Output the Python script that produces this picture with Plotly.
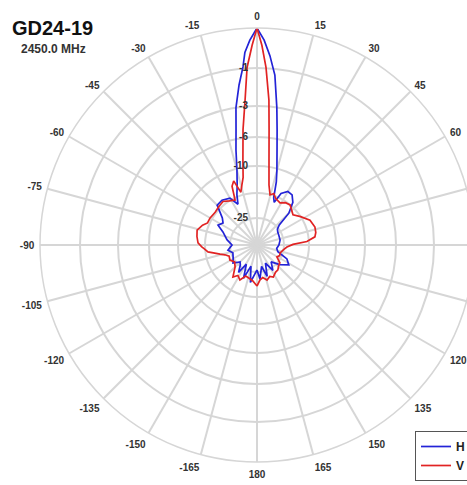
import numpy as np
import plotly.graph_objects as go

# Radial scale of the chart: dB level -> ring radius (chart units)
scale_db = [-40, -25, -15, -10, -6, -3, -1, 0]
scale_r = [0, 27, 52, 79, 108, 139, 177, 217]

ring_db = [-25, -15, -10, -6, -3, -1]
ring_labels = ['-25', '', '-10', '-6', '-3', '-1']

angle_ticks = list(range(0, 360, 15))
# labels at 75, 90 and 105 fall outside the visible picture in the reference
angle_labels = ['' if a in (75, 90, 105) else (str(a) if a <= 180 else str(a - 360))
                for a in angle_ticks]

# H polarisation (blue)
h_angle = [-180, -175, -170, -164, -158, -151, -146, -140, -135, -127, -118, -108,
           -100, -90, -80, -69, -63, -57, -52, -45, -38, -30, -25, -21.8, -18.4,
           -15, -12.5, -10.3, -8.7, -6.4, -4.5, -3.6, -2, 0, 2, 3.9, 6, 8.2, 9.9,
           11.9, 14.9, 17, 19.5, 22, 25, 30, 35, 40, 45, 48, 52, 58, 65, 78, 90,
           100, 108, 115, 122, 131, 140, 148, 155, 162, 168, 175, 180]
h_db = [-26.1, -23.8, -20.6, -27.8, -21.4, -27.8, -22.6, -25.6, -26.7, -23.8, -25.0,
        -25.9, -24.0, -26.1, -23.6, -21.2, -18.3, -19.6, -18.2, -14.2, -14.1, -14.6,
        -17.8, -14.6, -13.0, -10.3, -7.5, -5.1, -3.0, -1.84, -0.96, -0.6, -0.3, 0.0,
        -0.3, -0.68, -1.32, -3.0, -5.13, -7.5, -10.3, -12.4, -15.8, -17.4, -14.1,
        -13.2, -13.3, -14.3, -17.8, -23.8, -25.6, -26.4, -26.7, -26.9, -27.8, -28.9,
        -27.8, -22.6, -20.8, -23.8, -27.8, -23.8, -28.9, -22.6, -27.8, -22.2, -26.1]

# V polarisation (red)
v_angle = [-180, -173, -166, -160, -154, -148, -143, -135, -127, -119, -112, -107,
           -104, -98, -94, -92, -88, -82, -76, -70, -66, -60, -52, -45, -38, -32,
           -26, -23, -20, -17, -14, -11.6, -9.4, -6.9, -4.7, -3.2, -1.4, 0, 1.4, 2.9,
           4.7, 6, 8, 11.3, 14.6, 18, 22, 28.7, 34, 39.5, 45, 50, 57, 65, 72.8, 78,
           82, 86, 89, 94, 100, 109, 115, 121, 128, 134, 140, 146, 153, 158, 164,
           170, 175, 180]
v_db = [-19.4, -21.4, -22.2, -22.6, -20.2, -21.4, -19.8, -23.4, -24.6, -23.4, -23.8,
        -22.4, -20.6, -16.0, -14.8, -14.4, -13.7, -13.4, -13.2, -13.9, -14.6, -14.6,
        -14.8, -14.6, -14.4, -15.0, -15.8, -12.8, -12.0, -14.4, -13.1, -11.85, -9.0,
        -5.2, -2.66, -0.98, -0.43, 0.0, -0.43, -0.98, -2.66, -5.27, -9.0, -13.3,
        -15.1, -14.6, -15.8, -16.6, -15.4, -15.0, -16.2, -17.0, -15.0, -13.8, -13.4,
        -13.5, -13.8, -15.8, -21.4, -23.8, -25.0, -26.4, -26.1, -27.1, -24.2, -23.8,
        -22.8, -22.6, -21.4, -22.2, -21.2, -22.6, -21.8, -19.4]

to_r = lambda db: np.interp(db, scale_db, scale_r)

fig = go.Figure()
fig.add_trace(go.Scatterpolar(r=to_r(h_db), theta=h_angle, mode='lines', name='H',
                              line=dict(color='rgb(35,35,215)', width=1.7)))
fig.add_trace(go.Scatterpolar(r=to_r(v_db), theta=v_angle, mode='lines', name='V',
                              line=dict(color='rgb(225,35,35)', width=1.7)))

# canvas wider than the window: the right edge is cut off as in the reference
W, H = 520, 485
L, T, B = 40, 28, 23
R = W - 474
pw, ph = W - L - R, H - T - B
px = lambda x: (x - L) / pw
py = lambda y: 1 - (y - T) / ph

grid = '#d6d6d6'
tfont = dict(family='Arial', size=10, color='#333333', weight='bold')
fig.update_layout(
    width=W, height=H,
    margin=dict(l=L, r=R, t=T, b=B, autoexpand=False),
    paper_bgcolor='white',
    showlegend=True,
    legend=dict(x=px(415), y=py(431), xanchor='left', yanchor='top',
                bordercolor='#555555', borderwidth=1, bgcolor='white',
                font=dict(family='Arial', size=12, color='#222222', weight='bold'),
                tracegroupgap=2),
    polar=dict(
        bgcolor='white',
        domain=dict(x=[0, 1], y=[0, 1]),
        angularaxis=dict(rotation=90, direction='clockwise', tickmode='array',
                         tickvals=angle_ticks, ticktext=angle_labels,
                         showgrid=True, gridcolor=grid, gridwidth=1.5,
                         showline=True, linecolor=grid, linewidth=1.5,
                         ticks='outside', ticklen=3, tickcolor='rgba(0,0,0,0)',
                         tickfont=tfont),
        radialaxis=dict(range=[0, 217], tickmode='array',
                        tickvals=to_r(ring_db), ticktext=ring_labels,
                        angle=90, tickangle=90, side='counterclockwise',
                        showline=False, showgrid=True, gridcolor=grid, gridwidth=1.5,
                        ticks='outside', ticklen=5, tickcolor='rgba(0,0,0,0)',
                        tickfont=tfont),
    ),
    annotations=[
        dict(text='GD24-19', x=px(10), y=py(28), xref='paper', yref='paper',
             xanchor='left', yanchor='middle', showarrow=False,
             font=dict(family='Arial', size=20, color='#111111', weight='bold')),
        dict(text='2450.0 MHz', x=px(19), y=py(49), xref='paper', yref='paper',
             xanchor='left', yanchor='middle', showarrow=False,
             font=dict(family='Arial', size=12, color='#333333', weight='bold')),
    ],
)

fig.write_html("out.html", config={'displayModeBar': False},
               post_script="var d=document.getElementById('{plot_id}');"
                           "d.style.width='467px';d.style.overflow='hidden';"
                           "document.body.style.margin='0';"
                           "document.body.style.overflow='hidden';"
                           "document.documentElement.style.overflow='hidden';")
